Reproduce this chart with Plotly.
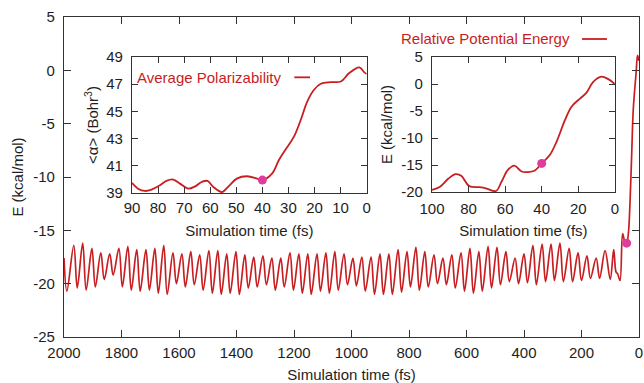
import plotly.graph_objects as go

# ---------------- data ----------------
# main run: start point, alternating troughs / peaks, tail (fs, kcal/mol)
start_t = [2000]
start_e = [-17.6]

peak_t = [1966, 1935, 1903, 1872, 1841, 1809, 1778, 1747, 1715, 1684, 1653, 1621,
          1590, 1559, 1528, 1496, 1465, 1434, 1402, 1371, 1340, 1308, 1277, 1246, 1214,
          1183, 1152, 1120, 1089, 1058, 1026, 995, 964, 932, 901, 870, 838, 807,
          776, 745, 713, 682, 651, 619, 588, 557, 525, 494, 463, 431, 400,
          369, 337, 306, 275, 243, 212, 181, 149, 118]
peak_e = [-16.4, -16.2, -16.7, -17.1, -17.2, -16.7, -16.5, -16.8, -16.8, -16.7, -16.4, -17.1,
          -17.2, -17.0, -17.3, -16.9, -16.9, -17.2, -17.0, -17.3, -17.5, -17.4, -17.6, -17.6, -17.1,
          -17.2, -17.2, -17.2, -17.1, -17.0, -17.2, -17.6, -17.5, -17.5, -17.2, -17.2, -16.8, -17.0,
          -16.6, -17.0, -17.3, -17.6, -17.3, -17.1, -16.7, -17.0, -16.5, -16.6, -17.0, -17.6, -17.2,
          -16.4, -16.3, -16.3, -16.2, -16.7, -17.1, -17.4, -17.6, -16.9]

trough_t = [1990, 1954, 1923, 1891, 1860, 1829, 1797, 1766, 1735, 1703, 1672, 1641,
            1609, 1578, 1547, 1516, 1484, 1453, 1422, 1390, 1359, 1328, 1296, 1265, 1234,
            1202, 1171, 1140, 1108, 1077, 1046, 1014, 983, 952, 920, 889, 858, 826,
            795, 764, 733, 701, 670, 639, 607, 576, 545, 513, 482, 451, 419,
            388, 357, 325, 294, 263, 231, 200, 169, 137]
trough_e = [-20.7, -20.4, -20.6, -20.3, -19.6, -19.2, -20.3, -20.6, -20.7, -20.6, -20.9, -21.0,
            -20.0, -20.3, -20.1, -20.6, -20.9, -21.0, -20.9, -21.0, -20.4, -20.3, -20.1, -20.6, -20.3,
            -20.6, -20.9, -21.0, -20.7, -20.9, -20.6, -20.1, -20.2, -20.7, -21.0, -21.0, -21.0, -20.8,
            -20.3, -20.6, -20.3, -20.0, -20.1, -20.4, -20.7, -20.9, -20.7, -20.4, -20.1, -19.8, -20.0,
            -19.9, -20.1, -19.8, -19.7, -19.8, -19.8, -19.7, -19.5, -19.5]

tail_t = [100, 88, 80, 74, 66, 57, 50, 43, 37, 31, 25, 20, 10, 5, 0]
tail_e = [-19.6, -16.8, -18.9, -19.1, -19.7, -15.3, -16.0, -16.2, -15.3, -12.2, -7.5, -3.7, -0.2, 1.4, 0.9]

main_dot_t = [43]
main_dot_e = [-16.2]

# inset 1: average polarizability (Bohr^3)
pol_t = [90, 87.7, 85.1, 82.5, 79.3, 76.8, 74.2, 71.6, 68.4, 65.8, 63.3, 61.1, 58.8, 55.5, 53,
         49.8, 45.9, 42, 40, 36.3, 33.7, 31.1, 27.9, 25.3, 22.8, 20.2, 17.6, 13.8, 9.9, 6.7, 2.8, 0.9, 0]
pol_a = [39.74, 39.32, 39.15, 39.25, 39.57, 39.89, 39.99, 39.69, 39.32, 39.49, 39.81, 39.89, 39.44,
         39.07, 39.49, 40.06, 40.23, 40.06, 39.95, 40.43, 41.41, 42.2, 43.14, 44.37, 45.72, 46.59,
         47.03, 47.15, 47.2, 47.82, 48.24, 47.87, 47.75]
pol_dot_t = [40]
pol_dot_a = [39.95]

# inset 2: relative potential energy (kcal/mol)
en_t = [100, 95.6, 91, 87, 84, 79.6, 74, 70.5, 65, 62, 58.5, 54.9, 51, 47.5, 43.7, 40,
        35.5, 31.9, 27.3, 23.7, 19.1, 15.5, 11.8, 7.3, 3.6, 0]
en_e = [-19.6, -19.0, -17.5, -16.7, -17.0, -18.9, -19.1, -19.3, -19.8, -18.1, -15.9, -15.1,
        -16.2, -16.3, -16.0, -14.7, -13.1, -10.7, -6.7, -4.2, -2.7, -1.6, 0.4, 1.35, 0.9, 0.0]
en_dot_t = [40]
en_dot_e = [-14.7]

# tick labels (ASCII hyphen minus, as in the reference)
main_x_ticks = [2000, 1800, 1600, 1400, 1200, 1000, 800, 600, 400, 200, 0]
main_y_ticks = [5, 0, -5, -10, -15, -20, -25]
pol_x_ticks = [90, 80, 70, 60, 50, 40, 30, 20, 10, 0]
pol_y_ticks = [39, 41, 43, 45, 47, 49]
en_x_ticks = [100, 80, 60, 40, 20, 0]
en_y_ticks = [5, 0, -5, -10, -15, -20]

# ---------------- build main series ----------------
main_t = list(start_t)
main_e = list(start_e)
for i in range(len(peak_t)):
    main_t += [trough_t[i], peak_t[i]]
    main_e += [trough_e[i], peak_e[i]]
main_t += tail_t
main_e += tail_e

RED = "#c81e22"
DOT = "#e03c9c"
INK = "#1e1e1e"
FONT = "Liberation Sans, Arial, sans-serif"


def labels(vals):
    return [str(v) for v in vals]


fig = go.Figure()
fig.add_trace(go.Scatter(x=main_t, y=main_e, mode="lines", line_shape="spline",
                         line=dict(color=RED, width=1.7, smoothing=1.0), xaxis="x", yaxis="y",
                         showlegend=False))
fig.add_trace(go.Scatter(x=main_dot_t, y=main_dot_e, mode="markers",
                         marker=dict(color=DOT, size=9), xaxis="x", yaxis="y",
                         showlegend=False))
fig.add_trace(go.Scatter(x=pol_t, y=pol_a, mode="lines", line_shape="spline",
                         line=dict(color=RED, width=1.8), xaxis="x2", yaxis="y2",
                         showlegend=False))
fig.add_trace(go.Scatter(x=pol_dot_t, y=pol_dot_a, mode="markers",
                         marker=dict(color=DOT, size=9), xaxis="x2", yaxis="y2",
                         showlegend=False))
fig.add_trace(go.Scatter(x=en_t, y=en_e, mode="lines", line_shape="spline",
                         line=dict(color=RED, width=1.8), xaxis="x3", yaxis="y3",
                         showlegend=False))
fig.add_trace(go.Scatter(x=en_dot_t, y=en_dot_e, mode="markers",
                         marker=dict(color=DOT, size=9), xaxis="x3", yaxis="y3",
                         showlegend=False))

axis_common = dict(showline=True, linecolor="#333333", linewidth=1.3, mirror="ticks",
                   ticks="inside", tickcolor="#333333", tickwidth=1.3,
                   showgrid=False, zeroline=False, tickmode="array", automargin=False,
                   tickfont=dict(family=FONT, size=15, color=INK))


def title(text, standoff):
    return dict(text=text, standoff=standoff, font=dict(family=FONT, size=15, color=INK))


fig.update_layout(
    width=644, height=383,
    margin=dict(l=64, r=5, t=17, b=46),
    paper_bgcolor="white", plot_bgcolor="white",
    font=dict(family=FONT, size=15, color=INK),
    xaxis=dict(axis_common, domain=[0, 1], range=[2000, 0], ticklen=7, anchor="y",
               tickvals=main_x_ticks, ticktext=labels(main_x_ticks), ticklabelstandoff=2,
               title=title("Simulation time (fs)", 10)),
    yaxis=dict(axis_common, domain=[0, 1], range=[-25, 5], ticklen=7, anchor="x",
               tickvals=main_y_ticks, ticktext=labels(main_y_ticks), ticklabelstandoff=5,
               title=title("E (kcal/mol)", 5)),
    xaxis2=dict(axis_common, domain=[0.1183, 0.5264], range=[90, 0], ticklen=6, anchor="y2",
                tickvals=pol_x_ticks, ticktext=labels(pol_x_ticks), ticklabelstandoff=1,
                title=title("Simulation time (fs)", 10)),
    yaxis2=dict(axis_common, domain=[0.450, 0.875], range=[39, 49], ticklen=6, anchor="x2",
                tickvals=pol_y_ticks, ticktext=labels(pol_y_ticks), ticklabelstandoff=5,
                title=title("&lt;α&gt; (Bohr<sup>3</sup>)", 3)),
    xaxis3=dict(axis_common, domain=[0.640, 0.958], range=[100, 0], ticklen=6, anchor="y3",
                tickvals=en_x_ticks, ticktext=labels(en_x_ticks), ticklabelstandoff=3,
                title=title("Simulation time (fs)", 9)),
    yaxis3=dict(axis_common, domain=[0.453, 0.875], range=[-20, 5], ticklen=6, anchor="x3",
                tickvals=en_y_ticks, ticktext=labels(en_y_ticks), ticklabelstandoff=5,
                title=title("E (kcal/mol)", 4)),
)

# legend-like labels
fig.add_annotation(x=0.8835, y=0.93125, xref="paper", yref="paper", xanchor="right",
                   yanchor="middle", showarrow=False, text="Relative Potential Energy",
                   font=dict(family=FONT, size=15, color=RED))
fig.add_shape(type="line", xref="paper", yref="paper", x0=0.9009, x1=0.9443,
              y0=0.93125, y1=0.93125, line=dict(color=RED, width=1.8))
fig.add_annotation(x=0.3814, y=0.8115, xref="paper", yref="paper", xanchor="right",
                   yanchor="middle", showarrow=False, text="Average Polarizability",
                   font=dict(family=FONT, size=15, color=RED))
fig.add_shape(type="line", xref="paper", yref="paper", x0=0.4005, x1=0.4278,
              y0=0.8115, y1=0.8115, line=dict(color=RED, width=1.8))

fig.write_html("out.html")
